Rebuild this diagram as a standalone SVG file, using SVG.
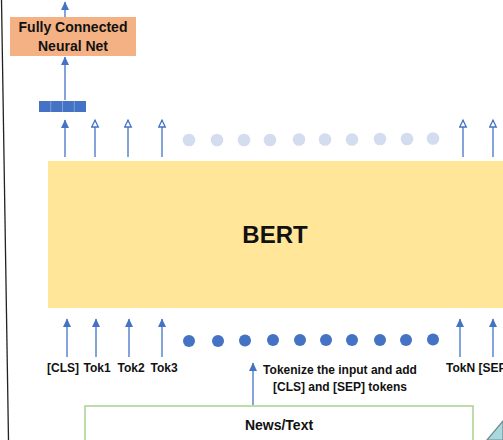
<svg xmlns="http://www.w3.org/2000/svg" width="503" height="440" viewBox="0 0 503 440">
<style>
.lbl{font-family:"Liberation Sans",Arial,sans-serif;font-weight:bold;fill:#111}
.ar{stroke:#5B85CF;stroke-width:1.5;fill:none}
.dot{fill:#4472C4}
.ldot{fill:#D3DDEF}
</style>
<defs>
<marker id="fa" markerUnits="userSpaceOnUse" markerWidth="9" markerHeight="9" refX="8" refY="4.5" orient="auto" viewBox="0 0 9 9">
<path d="M0,0.5 L8.5,4.5 L0,8.5 z" fill="#4472C4"/>
</marker>
<marker id="ha" markerUnits="userSpaceOnUse" markerWidth="9" markerHeight="9" refX="8" refY="4.5" orient="auto" viewBox="0 0 9 9">
<path d="M1,1.2 L7.8,4.5 L1,7.8 z" fill="#fff" stroke="#4472C4" stroke-width="1.3"/>
</marker>
</defs>
<rect width="503" height="440" fill="#fff"/>
<line x1="1.5" y1="0" x2="8.5" y2="440" stroke="#222" stroke-width="1.3"/>

<g id="fcnn">
<rect x="10" y="17" width="126" height="39" fill="#F4B183"/>
<text class="lbl" x="73" y="32" font-size="14" text-anchor="middle">Fully Connected</text>
<text class="lbl" x="73" y="51" font-size="14" text-anchor="middle">Neural Net</text>
</g>

<g id="cls-vector">
<rect x="39" y="101" width="47" height="11" fill="#4472C4"/>
<line x1="50.75" y1="101" x2="50.75" y2="112" stroke="#8FAADC" stroke-width="0.8"/>
<line x1="62.5" y1="101" x2="62.5" y2="112" stroke="#8FAADC" stroke-width="0.8"/>
<line x1="74.25" y1="101" x2="74.25" y2="112" stroke="#8FAADC" stroke-width="0.8"/>
</g>

<g id="bert">
<rect x="48" y="161" width="456" height="147" fill="#FFE699"/>
<text class="lbl" x="275" y="243" font-size="24" text-anchor="middle">BERT</text>
</g>

<g id="output-dots">
<circle class="ldot" cx="189" cy="140" r="6.3"/>
<circle class="ldot" cx="217" cy="140" r="6.3"/>
<circle class="ldot" cx="244" cy="140" r="6.3"/>
<circle class="ldot" cx="270" cy="140" r="6.3"/>
<circle class="ldot" cx="299" cy="139.5" r="6.3"/>
<circle class="ldot" cx="325" cy="139.5" r="6.3"/>
<circle class="ldot" cx="352" cy="139.5" r="6.3"/>
<circle class="ldot" cx="380" cy="139" r="6.3"/>
<circle class="ldot" cx="407" cy="139" r="6.3"/>
<circle class="ldot" cx="433" cy="138.5" r="6.3"/>
</g>

<g id="input-dots">
<circle class="dot" cx="189" cy="341" r="6"/>
<circle class="dot" cx="218" cy="341" r="6"/>
<circle class="dot" cx="245" cy="340.5" r="6"/>
<circle class="dot" cx="273" cy="340" r="6"/>
<circle class="dot" cx="300" cy="340" r="6"/>
<circle class="dot" cx="326" cy="340" r="6"/>
<circle class="dot" cx="352" cy="340" r="6"/>
<circle class="dot" cx="380" cy="340" r="6"/>
<circle class="dot" cx="406" cy="340" r="6"/>
<circle class="dot" cx="433" cy="339.5" r="6"/>
</g>

<g id="token-labels">
<text class="lbl" x="63" y="372" font-size="12" text-anchor="middle">[CLS]</text>
<text class="lbl" x="97" y="372" font-size="12" text-anchor="middle">Tok1</text>
<text class="lbl" x="131" y="372" font-size="12" text-anchor="middle">Tok2</text>
<text class="lbl" x="164" y="372" font-size="12" text-anchor="middle">Tok3</text>
<text class="lbl" x="446" y="372" font-size="12">TokN [SEP</text>
</g>

<g id="tokenize-note">
<text class="lbl" x="340" y="374" font-size="12" text-anchor="middle">Tokenize the input and add</text>
<text class="lbl" x="340" y="391" font-size="12" text-anchor="middle">[CLS] and [SEP] tokens</text>
</g>

<g id="news-text">
<rect x="85" y="406" width="388" height="44" fill="#fff" stroke="#A9D18E" stroke-width="1.5"/>
<text class="lbl" x="279" y="430" font-size="14" text-anchor="middle">News/Text</text>
</g>

<g id="corner-shape">
<polygon points="487,440 503,421 503,440" fill="#A9D9DE" stroke="#6F8C90" stroke-width="1.2"/>
</g>

<g id="connectors">
<line class="ar" x1="65" y1="17" x2="65" y2="2" marker-end="url(#fa)"/>
<line class="ar" x1="65" y1="100" x2="65" y2="57" marker-end="url(#fa)"/>
<line class="ar" x1="65" y1="157" x2="65" y2="120" marker-end="url(#fa)"/>
<line class="ar" x1="95" y1="157" x2="95" y2="120" marker-end="url(#ha)"/>
<line class="ar" x1="128" y1="157" x2="128" y2="120" marker-end="url(#ha)"/>
<line class="ar" x1="162" y1="157" x2="162" y2="120" marker-end="url(#ha)"/>
<line class="ar" x1="463" y1="157" x2="463" y2="120" marker-end="url(#ha)"/>
<line class="ar" x1="493" y1="157" x2="493" y2="120" marker-end="url(#ha)"/>
<line class="ar" x1="67" y1="357" x2="67" y2="319" marker-end="url(#fa)"/>
<line class="ar" x1="96" y1="357" x2="96" y2="319" marker-end="url(#fa)"/>
<line class="ar" x1="129" y1="357" x2="129" y2="319" marker-end="url(#fa)"/>
<line class="ar" x1="162" y1="357" x2="162" y2="319" marker-end="url(#fa)"/>
<line class="ar" x1="460" y1="357" x2="460" y2="319" marker-end="url(#fa)"/>
<line class="ar" x1="493" y1="357" x2="493" y2="319" marker-end="url(#fa)"/>
<line class="ar" x1="253" y1="405" x2="253" y2="363" marker-end="url(#fa)"/>
</g>
</svg>
